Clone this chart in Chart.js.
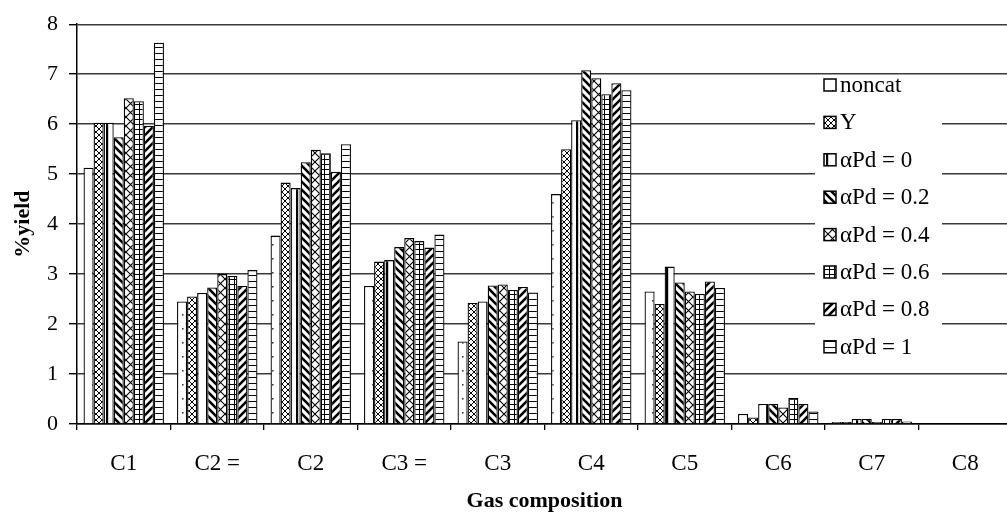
<!DOCTYPE html>
<html>
<head>
<meta charset="utf-8">
<script src="https://cdn.jsdelivr.net/npm/chart.js@4/dist/chart.umd.min.js"></script>
<style>
  html, body { margin: 0; padding: 0; background: #fff; overflow: hidden; }
  #wrap { width: 1013px; height: 515px; }
</style>
</head>
<body>
<div id="wrap"><canvas id="yieldChart" width="1013" height="515"></canvas></div>
<script>
// ------------------------------- Data -------------------------------
const categories = ['C1', 'C2 =', 'C2', 'C3 =', 'C3', 'C4', 'C5', 'C6', 'C7', 'C8'];
const seriesNames = ['noncat', 'Y', 'αPd = 0', 'αPd = 0.2', 'αPd = 0.4', 'αPd = 0.6', 'αPd = 0.8', 'αPd = 1'];
const yTicks = [0, 1, 2, 3, 4, 5, 6, 7, 8];

const noncat = [5.13, 2.45, 3.77, 2.76, 1.65, 4.60, 2.65, 0.20, 0.04, 0];
const zeoY   = [6.03, 2.55, 4.83, 3.25, 2.42, 5.50, 2.40, 0.13, 0.04, 0];
const pd0    = [6.03, 2.62, 4.72, 3.28, 2.45, 6.08, 3.15, 0.40, 0.10, 0];
const pd02   = [5.74, 2.73, 5.24, 3.54, 2.77, 7.08, 2.83, 0.40, 0.10, 0];
const pd04   = [6.52, 3.00, 5.49, 3.72, 2.79, 6.92, 2.65, 0.33, 0.04, 0];
const pd06   = [6.46, 2.96, 5.42, 3.66, 2.68, 6.60, 2.60, 0.52, 0.10, 0];
const pd08   = [5.97, 2.76, 5.05, 3.53, 2.74, 6.82, 2.85, 0.40, 0.10, 0];
const pd1    = [7.63, 3.08, 5.60, 3.79, 2.63, 6.68, 2.72, 0.25, 0.05, 0];

const seriesValues = [noncat, zeoY, pd0, pd02, pd04, pd06, pd08, pd1];

// ------------------------------- Hatch patterns -------------------------------
function makePattern(w, h, draw) {
  const c = document.createElement('canvas');
  c.width = w;
  c.height = h;
  const g = c.getContext('2d');
  g.fillStyle = '#fff';
  g.fillRect(0, 0, w, h);
  g.strokeStyle = '#000';
  g.fillStyle = '#000';
  draw(g, w, h);
  return document.createElement('canvas').getContext('2d').createPattern(c, 'repeat');
}

const patterns = [
  // noncat - sparse dots
  makePattern(10, 14, g => { g.fillStyle = '#444'; g.fillRect(2, 6, 1.6, 1.6); }),
  // Y - fine cross hatch
  makePattern(6, 6, g => {
    g.lineWidth = 1;
    g.beginPath();
    g.moveTo(0, 0); g.lineTo(6, 6);
    g.moveTo(6, 0); g.lineTo(0, 6);
    g.stroke();
  }),
  // aPd = 0 - vertical line
  makePattern(10, 4, g => { g.fillRect(6, 0, 2.2, 4); }),
  // aPd = 0.2 - heavy back slash
  makePattern(8, 8, g => {
    g.lineWidth = 2.6;
    g.beginPath();
    g.moveTo(-2, -2); g.lineTo(10, 10);
    g.moveTo(-2, 6); g.lineTo(2, 10);
    g.moveTo(6, -2); g.lineTo(10, 2);
    g.stroke();
  }),
  // aPd = 0.4 - diagonal cross
  makePattern(9, 9, g => {
    g.lineWidth = 1.1;
    g.beginPath();
    g.moveTo(0, 0); g.lineTo(9, 9);
    g.moveTo(9, 0); g.lineTo(0, 9);
    g.stroke();
  }),
  // aPd = 0.6 - grid
  makePattern(5, 5, g => { g.fillRect(0, 4, 5, 1.2); g.fillRect(4, 0, 1.2, 5); }),
  // aPd = 0.8 - heavy forward slash
  makePattern(8, 8, g => {
    g.lineWidth = 2.6;
    g.beginPath();
    g.moveTo(-2, 10); g.lineTo(10, -2);
    g.moveTo(-2, 2); g.lineTo(2, -2);
    g.moveTo(6, 10); g.lineTo(10, 6);
    g.stroke();
  }),
  // aPd = 1 - horizontal bricks
  makePattern(10, 6, g => { g.fillRect(0, 5, 10, 1.4); })
];

// ------------------------------- Legend inside plot -------------------------------
const boxLegend = {
  id: 'boxLegend',
  afterDraw(chart) {
    const ctx = chart.ctx;
    ctx.save();
    ctx.fillStyle = '#fff';
    ctx.fillRect(815, 76, 127, 288);
    ctx.font = '23px "Liberation Serif", serif';
    ctx.textBaseline = 'middle';
    chart.data.datasets.forEach((ds, i) => {
      const y = 85 + i * 37.4;
      ctx.fillStyle = ds.backgroundColor;
      ctx.fillRect(824, y - 6, 12, 12);
      ctx.strokeStyle = '#000';
      ctx.lineWidth = 1.5;
      ctx.strokeRect(824, y - 6, 12, 12);
      ctx.fillStyle = '#000';
      ctx.fillText(ds.label, 840, y + 1);
    });
    ctx.restore();
  }
};

// ------------------------------- Chart -------------------------------
const datasets = seriesNames.map((name, i) => ({
  label: name,
  data: seriesValues[i],
  backgroundColor: patterns[i],
  borderColor: '#000',
  borderWidth: 1.3,
  borderSkipped: 'bottom',
  barPercentage: 1,
  categoryPercentage: 0.86
}));

const serif = '"Liberation Serif", "Times New Roman", serif';

new Chart(document.getElementById('yieldChart'), {
  type: 'bar',
  data: { labels: categories, datasets: datasets },
  plugins: [boxLegend],
  options: {
    responsive: false,
    animation: false,
    layout: { padding: { top: 22, right: 1, left: 0, bottom: 0 } },
    plugins: {
      legend: { display: false },
      tooltip: { enabled: false }
    },
    scales: {
      x: {
        grid: { display: true, drawOnChartArea: false, drawTicks: true, tickLength: 6, color: '#000', lineWidth: 1.3, offset: true },
        border: { display: true, color: '#000', width: 1.5 },
        ticks: { color: '#000', padding: 20, maxRotation: 0, autoSkip: false, font: { family: serif, size: 23 } },
        title: { display: true, text: 'Gas composition', color: '#000', padding: { top: 4, bottom: 0 }, font: { family: serif, size: 22, weight: 'bold' } },
        afterFit(scale) { scale.height = 91; }
      },
      y: {
        min: 0,
        max: 8,
        afterBuildTicks(scale) { scale.ticks = yTicks.map(v => ({ value: v })); },
        grid: { color: '#3a3a3a', lineWidth: 1.4, drawTicks: true, tickLength: 8, tickColor: '#000' },
        border: { display: true, color: '#000', width: 1.5 },
        ticks: { color: '#000', padding: 11, font: { family: serif, size: 22 } },
        title: { display: true, text: '%yield', color: '#000', padding: { top: 10, bottom: 0 }, font: { family: serif, size: 22, weight: 'bold' } },
        afterFit(scale) { scale.width = 77; }
      }
    }
  }
});
</script>
</body>
</html>
